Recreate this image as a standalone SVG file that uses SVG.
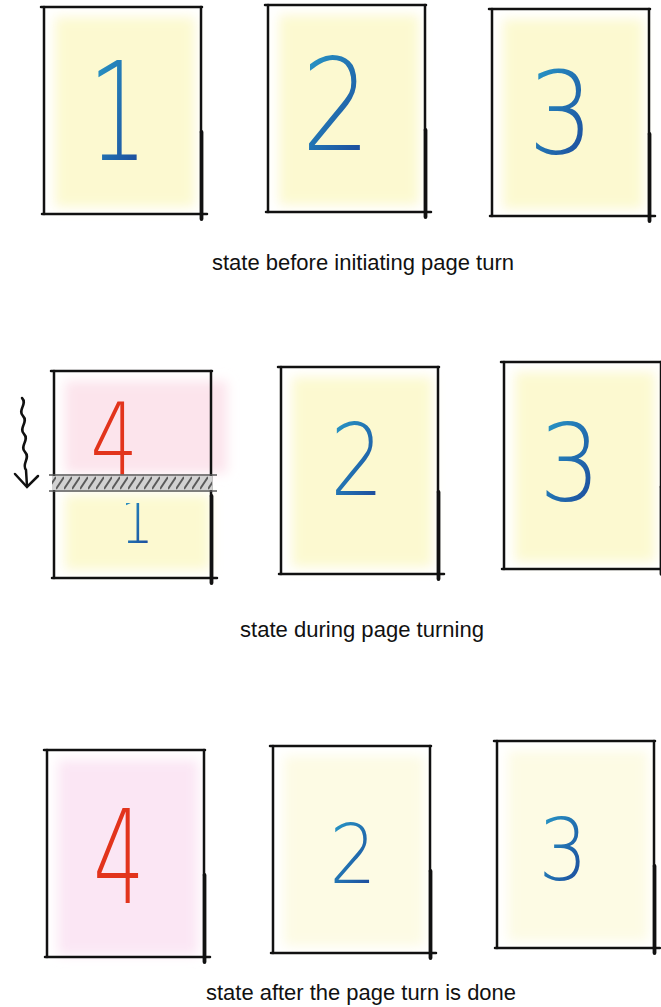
<svg xmlns="http://www.w3.org/2000/svg" xmlns:xlink="http://www.w3.org/1999/xlink" width="661" height="1007" viewBox="0 0 661 1007">
<style>
.ln{stroke:#111;stroke-width:2.5;fill:none;stroke-linecap:round}
.thk{stroke:#111;stroke-width:3.8;fill:none;stroke-linecap:round}
.dg{font-family:"DejaVu Sans","Liberation Sans",sans-serif;font-weight:200;text-anchor:middle}
.blue{fill:url(#ink)}
.red{fill:#e2341c}
.cap{font-family:"Liberation Sans",Arial,sans-serif;font-size:22px;fill:#111}
.bgY{fill:#fcf9d0;filter:url(#soft)}
.bgY2{fill:#fdfbe4;filter:url(#soft)}
.bgP{fill:#fbe6f4;filter:url(#soft)}
.bgR{fill:#fce4ec;filter:url(#soft)}
</style>
<defs>
<filter id="soft" x="-20%" y="-20%" width="140%" height="140%"><feGaussianBlur stdDeviation="6"/></filter>
<linearGradient id="ink" x1="0" y1="0" x2="1" y2="1"><stop offset="0" stop-color="#2aa3cc"/><stop offset="1" stop-color="#1a3c94"/></linearGradient>
<pattern id="hatch" width="8" height="14" patternUnits="userSpaceOnUse"><rect width="8" height="14" fill="#d2d2d2"/><path d="M0,13 L8,1" stroke="#5a5a5a" stroke-width="2"/></pattern>
<g id="frame">
<path class="ln" d="M-2,0 H159"/>
<path class="ln" d="M1,0 V207"/>
<path class="ln" d="M-1,207 H164"/>
<path class="ln" d="M158,0 V125"/>
<path class="thk" d="M158.5,125 V212"/>
</g>
<clipPath id="lower"><rect x="40" y="503" width="200" height="70"/></clipPath>
</defs>

<g id="row1">
<g id="r1-page1">
<rect class="bgY" x="55" y="17" width="140" height="190"/>
<use xlink:href="#frame" transform="translate(43,7)"/>
<text class="dg blue" transform="translate(118,160) scale(0.68,1)" font-size="137">1</text>
</g>
<g id="r1-page2">
<rect class="bgY" x="279" y="15" width="140" height="190"/>
<use xlink:href="#frame" transform="translate(267,5)"/>
<text class="dg blue" transform="translate(336,150) scale(0.85,1)" font-size="128">2</text>
</g>
<g id="r1-page3">
<rect class="bgY" x="503" y="19" width="140" height="190"/>
<use xlink:href="#frame" transform="translate(491,9)"/>
<text class="dg blue" transform="translate(561,153) scale(0.9,1)" font-size="114">3</text>
</g>
<text class="cap" x="212" y="270" textLength="302" lengthAdjust="spacingAndGlyphs">state before initiating page turn</text>
</g>

<g id="row2">
<g id="r2-page1">
<rect class="bgR" x="65" y="381" width="162" height="92"/>
<rect class="bgY" x="65" y="495" width="145" height="75"/>
<use xlink:href="#frame" transform="translate(53,371)"/>
<text class="dg red" transform="translate(114,474) scale(0.75,1)" font-size="99">4</text>
<g clip-path="url(#lower)">
<text class="dg blue" transform="translate(137,543) scale(0.85,1)" font-size="62">1</text>
</g>
<rect x="52" y="476" width="160" height="14" fill="url(#hatch)"/>
<path d="M49,475 H217 M49,491 H217" stroke="#555" stroke-width="1.6" fill="none"/>
</g>
<g id="r2-page2">
<rect class="bgY" x="292" y="377" width="140" height="190"/>
<use xlink:href="#frame" transform="translate(280,367)"/>
<text class="dg blue" transform="translate(357,495) scale(0.85,1)" font-size="99">2</text>
</g>
<g id="r2-page3">
<rect class="bgY" x="515" y="372" width="140" height="190"/>
<use xlink:href="#frame" transform="translate(503,362)"/>
<text class="dg blue" transform="translate(570,500) scale(0.9,1)" font-size="107">3</text>
</g>
<text class="cap" x="240" y="637" textLength="244" lengthAdjust="spacingAndGlyphs">state during page turning</text>
</g>

<g id="connectors">
<path class="ln" stroke-width="1.8" d="M22,398 C28,404 17,410 23,416 C29,422 18,428 24,434 C30,440 19,446 25,452 C31,458 21,464 26,470 L27,486"/>
<path class="ln" stroke-width="1.8" d="M15,474 L27,487 L38,476"/>
</g>

<g id="row3">
<g id="r3-page1">
<rect class="bgP" x="58" y="760" width="140" height="195"/>
<use xlink:href="#frame" transform="translate(46,750)"/>
<text class="dg red" transform="translate(119,903) scale(0.62,1)" font-size="130">4</text>
</g>
<g id="r3-page2">
<rect class="bgY2" x="284" y="756" width="140" height="190"/>
<use xlink:href="#frame" transform="translate(272,746)"/>
<text class="dg blue" transform="translate(353,883) scale(0.9,1)" font-size="82">2</text>
</g>
<g id="r3-page3">
<rect class="bgY2" x="508" y="751" width="140" height="190"/>
<use xlink:href="#frame" transform="translate(496,741)"/>
<text class="dg blue" transform="translate(563,880) scale(0.9,1)" font-size="86">3</text>
</g>
<text class="cap" x="206" y="1000" textLength="310" lengthAdjust="spacingAndGlyphs">state after the page turn is done</text>
</g>
</svg>
